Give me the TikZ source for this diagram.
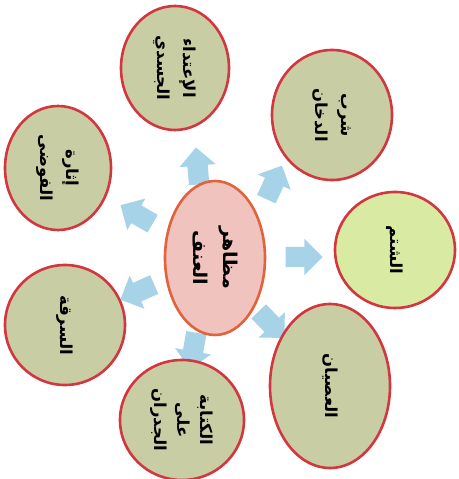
\documentclass[tikz,border=0pt]{standalone}
\usepackage{fontspec}
\newfontfamily\arabicfont[Script=Arabic]{DejaVu Sans}
\TeXXeTstate=1
\usetikzlibrary{shapes.geometric,shapes.arrows}
\definecolor{bubblefill}{HTML}{C9CDA4}
\definecolor{bubbleline}{HTML}{D2373F}
\definecolor{corefill}{HTML}{F0C3BF}
\definecolor{coreline}{HTML}{E2623C}
\definecolor{greenfill}{HTML}{D9EAA3}
\definecolor{arrowblue}{HTML}{A6D3E8}
\tikzset{
  bubble/.style={ellipse, draw=bubbleline, line width=2.6pt, fill=bubblefill,
    inner sep=0pt, align=center, rotate=-90,
    font=\arabicfont\fontsize{16.5}{26}\selectfont\bfseries},
  core/.style={bubble, draw=coreline, fill=corefill,
    font=\arabicfont\fontsize{19}{30}\selectfont\bfseries},
  blockarrow/.style={single arrow, fill=arrowblue, draw=none, inner xsep=2pt, inner ysep=10pt,
    minimum height=37pt, single arrow head extend=8pt}
}
\newcommand{\ar}[1]{\beginR #1\endR}
\begin{document}
\begin{tikzpicture}[x=1pt,y=1pt]
\useasboundingbox (0,0) rectangle (458,479);
% arrows
\node[blockarrow, rotate=95] (a1) at (198,308) {};
\node[blockarrow, rotate=65] (a2) at (272,292) {};
\node[blockarrow, rotate=0] (a3) at (299,222) {};
\node[blockarrow, rotate=-46] (a4) at (268,158) {};
\node[blockarrow, rotate=-100] (a5) at (194,133) {};
\node[blockarrow, rotate=204] (a6) at (142,189) {};
\node[blockarrow, rotate=150] (a7) at (141,262) {};
% bubbles (rotated -90: width along page y)
\node[core, minimum width=154pt, minimum height=100pt] (c) at (215,221) {\ar{مظاهر}\\\ar{العنف}};
\node[bubble, minimum width=124pt, minimum height=108pt] (top) at (175,411) {\ar{الإعتداء}\\\ar{الجسدي}};
\node[bubble, minimum width=130pt, minimum height=120pt] (tr) at (332,364) {\ar{شرب}\\\ar{الدخان}};
\node[bubble, fill=greenfill, minimum width=116pt, minimum height=120pt] (r) at (395,229) {\ar{الشتم}};
\node[bubble, minimum width=124pt, minimum height=106pt] (tl) at (58,311) {\ar{إثارة}\\\ar{الفوضى}};
\node[bubble, minimum width=120pt, minimum height=120pt] (l) at (65,154) {\ar{السرقة}};
\node[bubble, minimum width=120pt, minimum height=124pt, font=\arabicfont\fontsize{16.5}{23}\selectfont\bfseries] (b) at (182,59) {\ar{الكتابة}\\\ar{على}\\\ar{الجدران}};
\node[bubble, minimum width=164pt, minimum height=120pt] (br) at (330,93) {\ar{العصيان}};
\end{tikzpicture}
\end{document}
